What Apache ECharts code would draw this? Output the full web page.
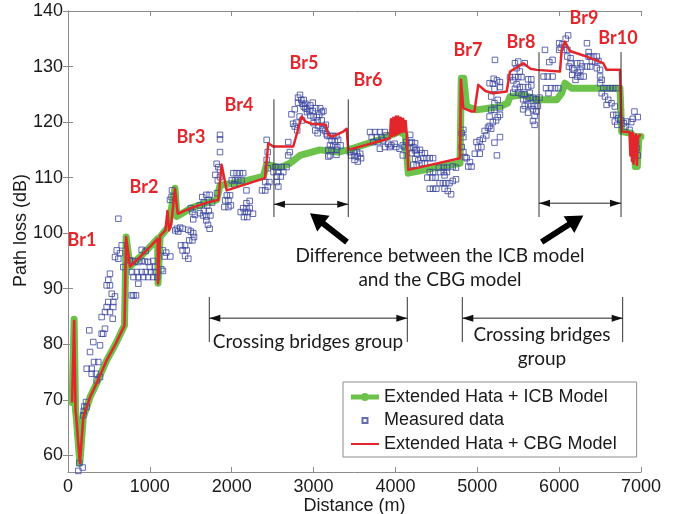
<!DOCTYPE html>
<html>
<head>
<meta charset="utf-8">
<script src="https://cdn.jsdelivr.net/npm/echarts@6/dist/echarts.min.js"></script>
<style>
html,body{margin:0;padding:0;background:#fff}
#chart{width:679px;height:514px}
</style>
</head>
<body>
<div id="chart"></div>
<script>
// Axis ticks
const xTicks = [0, 1000, 2000, 3000, 4000, 5000, 6000, 7000];
const yTicks = [60, 70, 80, 90, 100, 110, 120, 130, 140];

// Extended Hata + ICB model [distance m, path loss dB]
const icbModel = [
  [50,69.5],[75,84.5],[85,84.2],[92,68],[100,67],[145,58.6],[187,66.9],[270,70.5],[350,73],
  [472,77.1],[580,80],[690,83.4],[710,99.3],[757,94],[900,96],[1050,98.3],[1095,99],
  [1100,91],[1118,91],[1125,99.3],[1225,101.1],[1240,101.1],[1307,108.1],[1330,103],
  [1500,104.5],[1700,105.5],[1816,106],[1857,108.6],[2100,109.2],[2386,110.2],[2427,112.4],
  [2590,111.8],[2712,112.6],[2834,114],[3078,115],[3300,114.6],[3424,115],[3800,116.8],
  [4056,118.3],[4120,117.6],[4157,110.8],[4500,111.8],[4789,112.6],[4805,127.9],[4835,127.9],
  [4870,122.8],[4993,122.2],[5277,122.8],[5370,123.4],[5400,124.6],[5560,124.9],[5726,124],
  [5970,124],[6031,125.2],[6071,127],[6153,126.1],[6743,126.1],[6764,118.3],[6880,118],
  [6915,117],[6930,112],[6955,112],[6975,117.4],[7000,117.4]
];

// Extended Hata + CBG model [distance m, path loss dB]
const cbgModel = [
  [50,69.5],[75,84.2],[85,84],[92,68],[100,67],[145,58.6],[187,66.9],[270,70.5],[350,73],
  [472,77.1],[580,80],[690,83.4],[710,99.3],[757,94],[900,96],[1050,98.3],[1095,99],
  [1100,91],[1115,91],[1125,99.5],[1190,100.5],[1215,104],[1235,100.5],[1260,101.5],
  [1307,108],[1340,103.5],[1500,104.5],[1700,105.5],[1836,106],[1877,112.3],[1939,107.7],
  [2406,109.9],[2447,116.2],[2508,115.6],[2752,115.6],[2855,121],[2900,120.1],[2977,119.7],
  [3150,119.5],[3180,117.7],[3230,117.4],[3363,118.3],[3404,118.8],[3424,115],[3933,117.1],
  [3945,120.5],[3960,117.5],[3975,120.8],[3990,117.6],[4005,121],[4020,117.8],[4035,121],
  [4050,118],[4065,120.8],[4080,118.2],[4095,120.6],[4110,118.3],[4125,120.2],[4137,118],
  [4157,111.4],[4789,113.5],[4800,127.6],[4812,127.6],[4829,122.5],[4931,121.9],[4965,121.9],
  [5012,126.7],[5100,125.6],[5196,125.2],[5359,125.5],[5400,129.1],[5480,129.8],[5563,130.6],
  [5650,129.6],[5726,129.4],[6010,129.1],[6031,133],[6071,134.5],[6130,132.8],[6336,131.8],
  [6539,130.6],[6580,129.4],[6743,129.4],[6764,118.3],[6860,118.2],[6870,114],[6880,118],
  [6890,113],[6900,118],[6910,112.5],[6920,117.5],[6930,114],[6940,117.8],[6950,112.3],
  [6960,117],[6975,117.5],[7000,117.7]
];

// Measured data [distance m, path loss dB]
const measured = [
  [126,57.2],[138,58.6],[179,57.8],[187,67.2],[192,68],[198,68.8],[228,68.7],[220,69.6],
  [350,73.5],[289,74.7],[342,74.7],[391,74.1],[228,75.6],[289,75.6],[318,76.8],[370,76.8],
  [269,78.6],[391,79.8],[309,80.4],[411,81.9],[431,81.9],[452,82.8],[260,82.5],[411,84.9],
  [546,84.6],[452,85.8],[513,85.8],[472,86.7],[553,86.7],[492,87.6],[553,87.6],[574,88.6],
  [513,90.6],[472,90.6],[492,91.6],[534,89.1],[513,92.7],
  [615,102.6],[656,97.8],[595,96.9],[635,96.4],[574,95.7],[615,95.4],[676,93.9],[778,88.8],
  [831,88.8],[800,88.8],[859,90.9],[757,95.1],[790,95],[820,94.9],[860,94.8],[900,95],
  [940,94.9],[980,94.8],[1040,95],[782,93],[840,93],[900,93],[950,93],[1010,93],[1063,93],
  [800,92.1],[860,92.1],[920,92.1],[980,92.1],[1040,92.1],[1090,92.1],[900,97],[950,96.8],
  [1000,93.9],[1060,93.9],[1160,96.9],[1200,96.5],[1180,95.8],[1250,95.8],[1270,107.7],
  [1265,106.5],[1246,106],[1140,93.5],[1160,93.2],
  [1347,100.3],[1370,101],[1330,100.8],[1310,100.5],[1400,100.8],[1470,100.6],[1500,100.3],
  [1530,100],[1530,102.5],[1550,103.3],[1520,103.8],[1500,104.5],[1380,97.8],[1430,97.8],
  [1400,96.9],[1450,96.9],[1430,95.9],[1470,95.4],[1480,98.7],[1520,98.7],[1540,99.3],
  [1610,103.6],[1660,104],[1650,103.2],[1690,103],[1720,104],[1740,103.2],[1640,106.5],
  [1690,106.9],[1730,106.9],[1720,106],[1820,107.2],[1610,105],[1660,105.6],[1700,105],
  [1760,105.5],[1690,102.3],[1710,101.5],[1730,100.8],
  [1857,117.7],[1857,116.9],[1857,114.6],[1816,112.5],[1837,111.9],[1857,111.4],[1800,110.5],
  [1857,110.1],[1830,109.5],[2020,110.8],[2060,110.8],[2100,110.8],[2140,110.8],[2000,109.5],
  [2040,109.5],[2080,109.5],[2120,109.5],[2030,108.8],[1940,106.8],[1980,106.8],[1920,105.9],
  [1960,105.9],[1990,105],[1910,104.7],[1960,104.7],[2180,107.7],[2180,105.4],[2220,105.8],
  [2140,104.5],[2180,104.5],[2220,104.5],[2110,103.8],[2160,103.8],[2200,103.8],[2150,102.9],
  [2190,102.9],[2260,103.5],[2370,107.7],[2410,107.7],[2427,116.8],[2440,114.6],[2427,113.2],
  [2440,111.7],[2410,109.2],[2460,109.2],[2440,108.4],
  [2530,111.9],[2570,111.9],[2610,111.9],[2670,111.9],[2570,111],[2630,111],[2510,111],
  [2550,110.2],[2600,110.2],[2550,109.2],[2570,108.4],[2690,114],[2710,114.6],[2690,116.4],
  [2750,119.7],[2730,121.4],[2770,122.3],[2810,123.5],[2810,124.4],[2834,124.9],[2850,124],
  [2880,124],[2900,123.3],[2920,122.4],[2960,123],[2990,123.5],[2860,123.3],[2900,122.5],
  [2950,122],[2990,122],[3030,122.5],[3080,122.5],[3120,122],[2880,122.8],[2920,121.8],
  [2960,121.2],[3000,121],[3040,120.9],[3070,121.3],[3100,121.8],[2830,121],[2860,120.3],
  [2790,119.9],[2770,119.2],[2800,118.5],[3050,120.3],[3100,120.3],[3060,119.3],[3110,119],
  [3140,118.4],[3170,117.5],[3000,119.8],[3020,118.5],[3050,118],[3150,119.5],[3110,118.7],
  [3160,117.8],[3200,114],
  [3200,117.5],[3240,117.5],[3280,117.5],[3220,116.7],[3260,116.5],[3300,116.8],[3200,115.8],
  [3240,115.8],[3290,115.5],[3330,115.8],[3180,115],[3220,115],[3280,115],[3280,114.1],
  [3180,113.8],[3445,114.6],[3490,114.6],[3530,114.6],[3570,114.3],[3460,114],[3500,113.9],
  [3540,113.8],[3580,113.5],[3540,112.9],[3500,113.2],
  [3690,118.2],[3750,118.2],[3810,118.2],[3870,118.2],[3710,117.3],[3770,117.3],[3830,117.3],
  [3890,117.6],[3730,116.4],[3790,116.4],[3850,116.7],[3910,116.1],[3950,115.8],[3990,116.1],
  [3870,115.5],[3930,115.5],[4010,115.5],[4050,115.2],[4090,115.8],[3810,115.2],
  [4180,117.7],[4200,116.4],[4220,115.5],[4240,114.9],[4260,114.3],[4240,113.4],[4280,113.1],
  [4260,112.3],[4220,112.3],[4110,115.5],[4130,116.4],[4090,114],
  [4180,116.2],[4240,116.2],[4180,115.3],[4300,115],[4260,115],[4200,114.4],[4320,114.4],
  [4360,114.4],[4340,113.5],[4380,113.5],[4420,113.5],[4460,113.5],[4320,112.6],[4360,112.6],
  [4420,111],[4460,111],[4390,110],[4450,110],[4490,110],[4550,111],[4590,111],[4630,111],
  [4420,108],[4460,108],[4500,108],[4540,109],[4580,109],[4620,109],[4660,109],[4600,108],
  [4640,107.6],[4680,107],[4700,109.4],[4740,109.7],[4600,110.4],[4530,111.8],[4590,111.8],
  [4630,111.8],[4700,112],[4740,111.8],
  [4810,115.5],[4830,114.6],[4850,113.7],[4870,113.5],[4890,112],[4910,112.8],[4930,112],
  [4830,117.3],[4810,118],[4830,118.6],
  [4970,114.3],[5030,114.3],[5010,115.5],[5050,115.5],[4990,116.4],[5030,116.7],[5070,117],
  [5110,117.6],[5090,118.4],[5130,119],[5150,119.3],[5170,118.8],[5190,120],[5230,120.3],
  [5250,120.9],[5210,116.3],[5150,121],[5170,122.2],[5210,122.2],[5210,123.4],[5250,124],
  [5190,126.9],[5150,127],[5210,126],[5170,124.6],[5240,114],[5216,131.2],[5200,127.8],
  [5240,127.5],
  [5277,127.2],[5277,126.3],[5277,122.5],[5277,121.3],[5277,117.3],[5400,128.1],[5460,128.1],
  [5500,128.1],[5540,128.1],[5440,127.5],[5480,126.8],[5460,126],[5440,125.3],[5460,130.6],
  [5500,130.9],[5580,130.6],[5480,129.7],[5520,129.1],[5520,126.3],[5560,126.3],[5500,125.3],
  [5540,125],[5580,125],[5620,126.3],[5660,126.6],[5640,125.3],[5560,124.1],[5600,124.1],
  [5640,124.4],[5680,124.4],[5720,124.1],[5760,124.4],[5580,122.9],[5620,123.2],[5660,122.9],
  [5700,122.9],[5740,122.9],[5560,122.3],[5620,121.7],[5680,122.3],[5720,121.9],[5700,121.1],
  [5680,120.2],[5700,119.5],[5620,127.7],[5660,127.7],
  [5827,133],[5810,128.2],[5860,128.2],[5920,128.2],[5840,126.1],[5900,126.1],[5870,125.2],
  [5950,126.1],[5990,126.1],[5880,130.8],[5920,131.2],
  [6000,134.2],[6040,134],[6020,133.4],[6080,135],[6110,135.6],[6000,133],[6060,133],[6100,133],
  [6100,131.8],[6140,131.5],[6140,130.6],[6120,130],[6160,129.7],[6180,129.4],[6220,130.6],
  [6260,130.6],[6280,130],[6260,129.4],[6230,128.9],[6160,128.5],[6220,128.2],[6260,128.2],
  [6300,128.2],[6200,127.6],[6340,134.2],[6360,131.8],[6380,131.8],[6420,131.8],[6460,131.8],
  [6440,130.9],[6400,130.9],[6380,130],[6340,130],[6460,129.7],[6500,129.4],[6480,131],
  [6360,132.6],
  [6500,128.2],[6520,127.6],[6500,127],[6540,126.1],[6580,126.1],[6620,126.1],[6660,126.1],
  [6700,126.1],[6520,125.2],[6560,124.6],[6600,124],[6580,123.1],[6640,123.4],[6680,122.8],
  [6660,121.3],[6700,121.3],[6680,120.1],[6720,120.7],[6710,119.5],[6750,120.4],[6790,119.8],
  [6810,119.2],[6830,120.1],[6880,120],[6860,118.6],[6900,120.6],[6920,121.9],[6960,120.9],
  [6900,117.1],[6940,116.5],[6950,115.3],[6960,114]
];

// Bridge labels [text, distance, path loss]
const bridgeLabels = [
  ['Br1',171,98.7],['Br2',928,108.3],['Br3',1503,117.3],['Br4',2089,123.1],['Br5',2883,130.6],
  ['Br6',3665,127.6],['Br7',4886,133.0],['Br8',5534,134.4],['Br9',6303,138.7],['Br10',6719,135.1]
];

// Brackets: [start m, end m, top dB, bottom dB, arrow dB]
const diffBrackets = [[2516,3424,124.1,102.9,105.2],[5754,6756,132.6,102.9,105.4]];
const groupBrackets = [[1726,4145,88.5,80.4,84.7],[4817,6776,88.5,80.4,84.7]];
// Pointer arrows: [tail m, tail dB, tip m, tip dB]
const pointerArrows = [[3408,98.4,2956,103.6],[5786,98.4,6295,103.2]];

const FONT = "'Liberation Sans', Arial, sans-serif";
const NOTE_FONT = "Lato, 'Open Sans', sans-serif";
const GREEN = '#6cc24a';
const RED = '#e3262b';
const BLUE = '#3c46a0';

const chart = echarts.init(document.getElementById('chart'), null, {renderer: 'canvas'});

function axisBase(extra, ticks) {
  return Object.assign({
    type: 'value',
    axisLine: {show: true, lineStyle: {color: '#8c8c8c', width: 1}},
    axisTick: {show: true, inside: true, length: 5, customValues: ticks, lineStyle: {color: '#8c8c8c'}},
    splitLine: {show: false}
  }, extra);
}

// Legend icons (path bounds span the whole item box so aspect is kept)
const ICON_ICB = 'path://M0,0M28,8M0,1.5h28v5h-28zM14,0a4,4 0 1,1 -0.01,0z';
const ICON_MEAS = 'path://M0,0M28,8M11.5,1.5h5v5h-5z';
const ICON_CBG = 'path://M0,0M28,8M0,3h28v2h-28z';

chart.setOption({
  animation: false,
  backgroundColor: '#fff',
  grid: {left: 68, top: 11, right: 38, bottom: 42, containLabel: false, outerBoundsMode: 'none'},
  xAxis: [
    axisBase({
      min: 0, max: 7000, position: 'bottom',
      name: 'Distance (m)', nameLocation: 'middle', nameGap: 25, nameMoveOverlap: false,
      nameTextStyle: {fontFamily: FONT, fontSize: 18, color: '#1a1a1a'},
      axisLabel: {fontFamily: FONT, fontSize: 18, color: '#1a1a1a', margin: 6,
        customValues: xTicks, formatter: function (v) { return String(v); }}
    }, xTicks),
    axisBase({min: 0, max: 7000, position: 'top', axisLabel: {show: false}}, xTicks)
  ],
  yAxis: [
    axisBase({
      min: 57, max: 140, position: 'left',
      name: 'Path loss (dB)', nameLocation: 'middle', nameGap: 38, nameRotate: 90,
      nameMoveOverlap: false,
      nameTextStyle: {fontFamily: FONT, fontSize: 18, color: '#1a1a1a', padding: [0, 0, 0, 22]},
      axisLabel: {fontFamily: FONT, fontSize: 18, color: '#1a1a1a', margin: 5,
        customValues: yTicks, formatter: function (v) { return String(v); }}
    }, yTicks),
    axisBase({min: 57, max: 140, position: 'right', axisLabel: {show: false}}, yTicks)
  ],
  legend: {
    orient: 'vertical', left: 343, top: 382,
    padding: [6, 20, 4, 7], itemGap: 5.5, itemWidth: 28, itemHeight: 8,
    backgroundColor: '#fff', borderColor: '#8c8c8c', borderWidth: 1,
    textStyle: {fontFamily: FONT, fontSize: 18, color: '#1a1a1a'},
    data: [
      {name: 'Extended Hata + ICB Model', icon: ICON_ICB},
      {name: 'Measured data', icon: ICON_MEAS},
      {name: 'Extended Hata + CBG Model', icon: ICON_CBG}
    ]
  },
  series: [
    {
      name: 'Extended Hata + ICB Model', type: 'line', data: icbModel,
      symbol: 'circle', symbolSize: 9, showSymbol: false,
      lineStyle: {color: GREEN, width: 7, join: 'round', cap: 'round'},
      itemStyle: {color: GREEN}, z: 2
    },
    {
      name: 'Measured data', type: 'scatter', data: measured,
      symbol: 'rect', symbolSize: 5.5,
      itemStyle: {color: 'rgba(255,255,255,0)', borderColor: BLUE, borderWidth: 1},
      z: 3
    },
    {
      name: 'Extended Hata + CBG Model', type: 'line', data: cbgModel,
      symbol: 'none', showSymbol: false,
      lineStyle: {color: RED, width: 2.5, join: 'round'},
      itemStyle: {color: RED}, z: 4
    }
  ]
});

// Annotations positioned from data coordinates
function toPx(d, v) { return chart.convertToPixel({xAxisIndex: 0, yAxisIndex: 0}, [d, v]); }

function headPoly(tip, from, len, half) {
  const dx = tip[0] - from[0], dy = tip[1] - from[1];
  const L = Math.hypot(dx, dy), ux = dx / L, uy = dy / L;
  const bx = tip[0] - ux * len, by = tip[1] - uy * len;
  return [[tip[0], tip[1]], [bx - uy * half, by + ux * half], [bx + uy * half, by - ux * half]];
}

const graphics = [];
function bracket(b) {
  const xa = toPx(b[0], b[2]), xb = toPx(b[1], b[2]);
  const bottomA = toPx(b[0], b[3]), bottomB = toPx(b[1], b[3]);
  const aa = toPx(b[0], b[4]), ab = toPx(b[1], b[4]);
  graphics.push({type: 'line', shape: {x1: xa[0], y1: xa[1], x2: bottomA[0], y2: bottomA[1]},
    style: {stroke: '#333', lineWidth: 1}, z: 50});
  graphics.push({type: 'line', shape: {x1: xb[0], y1: xb[1], x2: bottomB[0], y2: bottomB[1]},
    style: {stroke: '#333', lineWidth: 1}, z: 50});
  graphics.push({type: 'line', shape: {x1: aa[0], y1: aa[1], x2: ab[0], y2: ab[1]},
    style: {stroke: '#222', lineWidth: 1}, z: 50});
  graphics.push({type: 'polygon', shape: {points: headPoly(aa, ab, 11, 3.5)}, style: {fill: '#111'}, z: 50});
  graphics.push({type: 'polygon', shape: {points: headPoly(ab, aa, 11, 3.5)}, style: {fill: '#111'}, z: 50});
}
diffBrackets.forEach(bracket);
groupBrackets.forEach(bracket);

pointerArrows.forEach(function (a) {
  const t = toPx(a[0], a[1]), p = toPx(a[2], a[3]);
  const dx = p[0] - t[0], dy = p[1] - t[1];
  const L = Math.hypot(dx, dy), ux = dx / L, uy = dy / L;
  const headLen = 17, headHalf = 10, shaftHalf = 3;
  const bx = p[0] - ux * headLen, by = p[1] - uy * headLen;
  graphics.push({type: 'polygon', z: 50, style: {fill: '#000'}, shape: {points: [
    [t[0] - uy * shaftHalf, t[1] + ux * shaftHalf],
    [bx - uy * shaftHalf, by + ux * shaftHalf],
    [bx - uy * headHalf, by + ux * headHalf],
    [p[0], p[1]],
    [bx + uy * headHalf, by - ux * headHalf],
    [bx + uy * shaftHalf, by - ux * shaftHalf],
    [t[0] + uy * shaftHalf, t[1] - ux * shaftHalf]
  ]}});
});

bridgeLabels.forEach(function (b) {
  const p = toPx(b[1], b[2]);
  graphics.push({type: 'text', z: 60, style: {
    text: b[0], x: p[0], y: p[1], align: 'center', verticalAlign: 'middle',
    font: 'bold 18px ' + NOTE_FONT, fill: RED}});
});

function note(text, d, v) {
  const p = toPx(d, v);
  graphics.push({type: 'text', z: 60, style: {
    text: text, x: p[0], y: p[1], align: 'center', verticalAlign: 'middle',
    font: '19px ' + NOTE_FONT, fill: '#1a1a1a', lineHeight: 24}});
}
note('Difference between the ICB model\nand the CBG model', 4544, 93.8);
note('Crossing bridges group', 2932, 80.4);
note('Crossing bridges\ngroup', 5790, 79.6);

chart.setOption({graphic: graphics});
</script>
</body>
</html>
